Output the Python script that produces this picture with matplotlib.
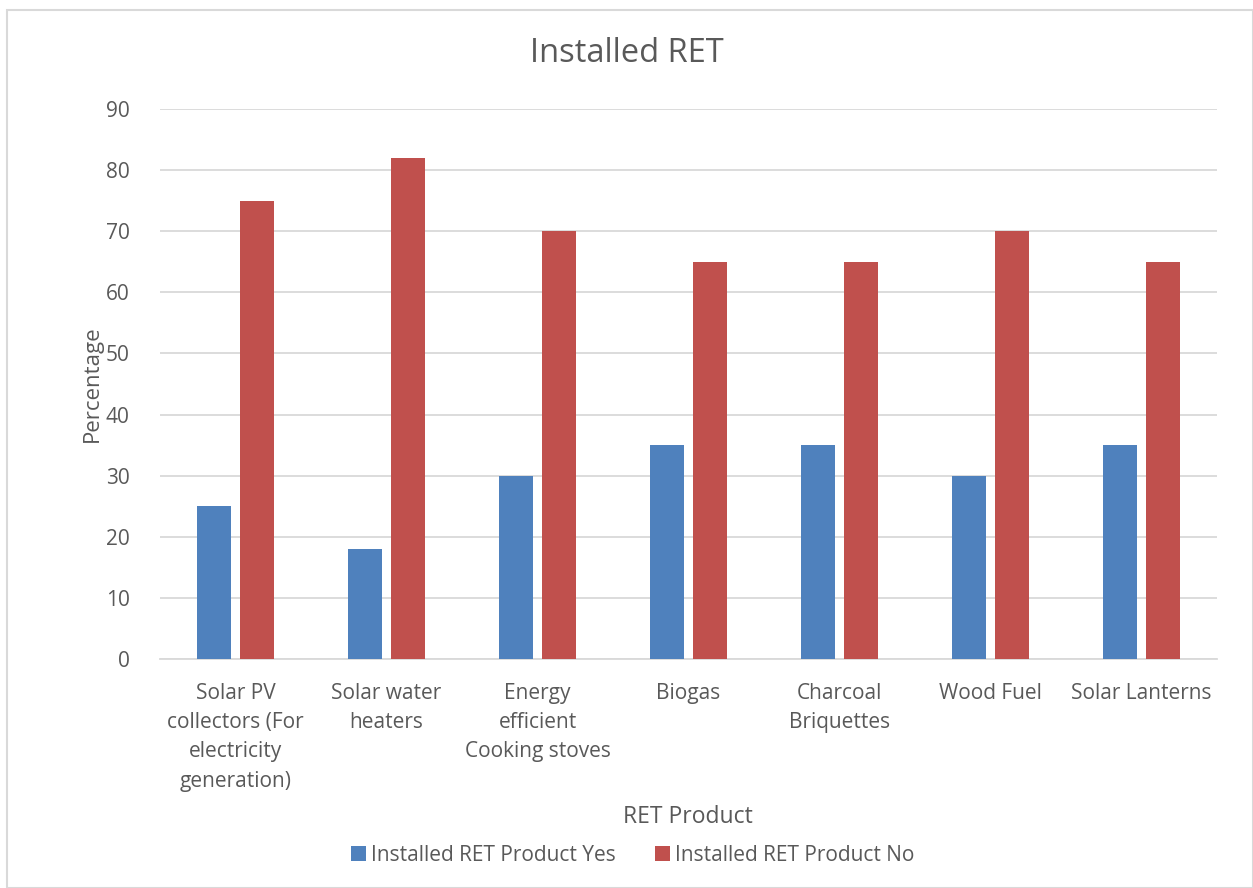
import matplotlib
matplotlib.use("Agg")
import matplotlib.pyplot as plt
import numpy as np
from matplotlib.patches import Rectangle

categories = [
    "Solar PV\ncollectors (For\nelectricity\ngeneration)",
    "Solar water\nheaters",
    "Energy\nefficient\nCooking stoves",
    "Biogas",
    "Charcoal\nBriquettes",
    "Wood Fuel",
    "Solar Lanterns",
]
yes_values = [25, 18, 30, 35, 35, 30, 35]
no_values = [75, 82, 70, 65, 65, 70, 65]

plt.rcParams["font.family"] = ["Open Sans", "DejaVu Sans"]
text_color = "#595959"

fig = plt.figure(figsize=(12.53, 8.88), dpi=100)
ax = fig.add_axes([160 / 1253, 1 - 659 / 888, 1057 / 1253, 550 / 888])

# light frame round the whole chart
fig.patches.append(Rectangle((7 / 1253, 0.0), 1246 / 1253, 1 - 10 / 888,
                             transform=fig.transFigure, fill=False,
                             edgecolor="#d9d9d9", linewidth=1.5))

x = np.arange(len(categories))
w = 0.225
gap = 0.06
ax.bar(x - (w + gap) / 2, yes_values, w, color="#4f81bd",
       label="Installed RET Product Yes", zorder=3)
ax.bar(x + (w + gap) / 2, no_values, w, color="#c0504d",
       label="Installed RET Product No", zorder=3)

ax.set_xlim(-0.5, len(categories) - 0.5)
ax.set_ylim(0, 90)
ax.set_yticks(range(0, 91, 10))
ax.yaxis.grid(True, color="#d9d9d9", linewidth=1.3, zorder=0)
ax.set_axisbelow(True)
for s in ["top", "right", "left"]:
    ax.spines[s].set_visible(False)
ax.spines["bottom"].set_color("#d9d9d9")
ax.spines["bottom"].set_linewidth(1.3)
ax.tick_params(axis="both", length=0, labelsize=15, colors=text_color)
ax.tick_params(axis="y", pad=22)
ax.tick_params(axis="x", pad=17)
ax.set_xticks(x)
ax.set_xticklabels(categories, linespacing=1.52)

ax.set_ylabel("Percentage", fontsize=16, color=text_color, labelpad=2)
fig.text(0.549, 1 - 817 / 888, "RET Product", fontsize=16.5, color=text_color,
         ha="center", va="center")
fig.text(0.5, 1 - 54 / 888, "Installed RET", fontsize=23.5, color=text_color,
         ha="center", va="center")

fig.legend(loc="center", bbox_to_anchor=(0.505, 1 - 855 / 888), ncol=2,
           frameon=False, fontsize=15, labelcolor=text_color,
           handlelength=0.7, handleheight=0.7, handletextpad=0.25,
           columnspacing=1.9)

fig.savefig("out.png", dpi=100)
